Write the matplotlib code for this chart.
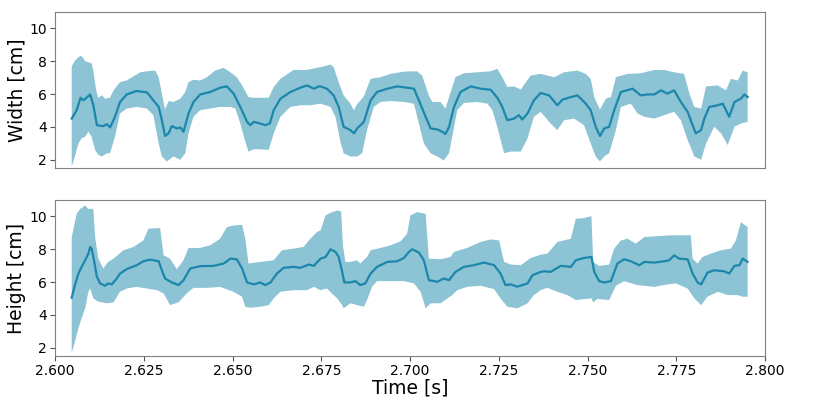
import numpy as np
import matplotlib
matplotlib.use("Agg")
import matplotlib.pyplot as plt

# ---------------- Width (top panel) ----------------
w_mean_t = [2.6047, 2.6061, 2.6072, 2.6080, 2.6089, 2.6099, 2.6108, 2.6118, 2.6136, 2.6146, 2.6155, 2.6169,
            2.6183, 2.6202, 2.6230, 2.6259, 2.6277, 2.6292, 2.6301, 2.6310, 2.6320, 2.6329, 2.6343, 2.6353,
            2.6362, 2.6376, 2.6390, 2.6409, 2.6437, 2.6465, 2.6484, 2.6503, 2.6522, 2.6541, 2.6550, 2.6560,
            2.6578, 2.6592, 2.6605, 2.6616, 2.6635, 2.6663, 2.6691, 2.6710, 2.6729, 2.6743, 2.6748, 2.6766,
            2.6785, 2.6799, 2.6813, 2.6832, 2.6842, 2.6851, 2.6870, 2.6889, 2.6907, 2.6936, 2.6964, 2.6992,
            2.7011, 2.7025, 2.7044, 2.7058, 2.7077, 2.7091, 2.7100, 2.7110, 2.7124, 2.7142, 2.7171, 2.7199,
            2.7227, 2.7246, 2.7260, 2.7274, 2.7293, 2.7307, 2.7316, 2.7331, 2.7349, 2.7368, 2.7392, 2.7415,
            2.7429, 2.7453, 2.7472, 2.7495, 2.7509, 2.7523, 2.7535, 2.7547, 2.7561, 2.7575, 2.7594, 2.7627,
            2.7650, 2.7669, 2.7688, 2.7707, 2.7725, 2.7744, 2.7763, 2.7782, 2.7796, 2.7805, 2.7820, 2.7829,
            2.7843, 2.7867, 2.7881, 2.7899, 2.7914, 2.7932, 2.7942, 2.7951]
w_mean = [4.51, 5.02, 5.78, 5.62, 5.78, 5.98, 5.32, 4.11, 4.05, 4.17, 3.97, 4.62,
          5.52, 5.98, 6.19, 6.11, 5.62, 5.22, 4.41, 3.45, 3.61, 4.05, 3.91, 3.97,
          3.71, 4.82, 5.52, 5.98, 6.13, 6.39, 6.47, 6.03, 5.22, 4.31, 4.11, 4.31,
          4.21, 4.11, 4.21, 5.02, 5.72, 6.13, 6.39, 6.53, 6.33, 6.47, 6.47, 6.33,
          5.92, 5.22, 4.01, 3.81, 3.61, 3.91, 4.31, 5.62, 6.13, 6.33, 6.47, 6.39,
          6.33, 5.62, 4.62, 3.91, 3.85, 3.71, 3.57, 4.01, 5.22, 6.13, 6.47, 6.33,
          6.27, 5.78, 5.22, 4.41, 4.51, 4.72, 4.45, 4.82, 5.62, 6.07, 5.92, 5.32,
          5.66, 5.82, 5.92, 5.42, 5.02, 4.01, 3.45, 3.91, 4.01, 5.02, 6.13, 6.33,
          5.92, 5.98, 5.98, 6.23, 6.03, 6.23, 5.52, 4.92, 4.11, 3.61, 3.81, 4.51,
          5.22, 5.32, 5.42, 4.62, 5.52, 5.72, 5.98, 5.82]

w_up_t = [2.6047, 2.6056, 2.6066, 2.6072, 2.6078, 2.6085, 2.6103, 2.6108, 2.6116, 2.6122, 2.6132, 2.6141,
          2.6155, 2.6165, 2.6183, 2.6202, 2.6240, 2.6259, 2.6282, 2.6292, 2.6301, 2.6310, 2.6320, 2.6334,
          2.6353, 2.6367, 2.6376, 2.6390, 2.6409, 2.6428, 2.6451, 2.6475, 2.6494, 2.6512, 2.6527, 2.6545,
          2.6560, 2.6578, 2.6602, 2.6616, 2.6635, 2.6672, 2.6710, 2.6738, 2.6748, 2.6776, 2.6785, 2.6799,
          2.6813, 2.6832, 2.6842, 2.6851, 2.6870, 2.6889, 2.6917, 2.6945, 2.6983, 2.7020, 2.7034, 2.7053,
          2.7063, 2.7086, 2.7100, 2.7110, 2.7128, 2.7152, 2.7189, 2.7227, 2.7246, 2.7260, 2.7274, 2.7293,
          2.7312, 2.7340, 2.7368, 2.7406, 2.7434, 2.7472, 2.7495, 2.7509, 2.7519, 2.7535, 2.7552, 2.7566,
          2.7580, 2.7613, 2.7650, 2.7688, 2.7716, 2.7744, 2.7772, 2.7787, 2.7801, 2.7820, 2.7834, 2.7867,
          2.7890, 2.7904, 2.7923, 2.7937, 2.7951]
w_up = [7.68, 8.04, 8.24, 8.34, 8.24, 8.00, 7.88, 7.43, 6.23, 5.78, 5.92, 5.72,
        5.78, 6.23, 6.73, 6.83, 7.33, 7.39, 7.43, 7.03, 6.03, 5.06, 5.58, 5.52,
        5.72, 6.13, 6.73, 6.87, 6.83, 7.03, 7.43, 7.60, 7.33, 7.03, 6.53, 5.82,
        5.78, 5.78, 5.78, 6.43, 6.93, 7.47, 7.47, 7.60, 7.64, 7.80, 7.64, 6.73,
        5.92, 5.42, 5.02, 5.38, 5.86, 6.93, 7.03, 7.23, 7.37, 7.39, 7.13, 5.92,
        5.52, 5.52, 5.12, 5.82, 7.03, 7.27, 7.33, 7.39, 7.54, 7.03, 6.43, 6.47,
        6.28, 7.13, 7.23, 7.03, 7.33, 7.43, 7.23, 6.93, 5.82, 5.06, 5.72, 5.82,
        7.03, 7.23, 7.27, 7.47, 7.47, 7.33, 7.23, 6.03, 5.22, 5.12, 6.47, 6.53,
        6.23, 6.93, 6.83, 7.43, 7.33]

w_lo_t = [2.6047, 2.6056, 2.6066, 2.6075, 2.6085, 2.6094, 2.6103, 2.6113, 2.6122, 2.6132, 2.6146, 2.6155,
          2.6169, 2.6183, 2.6202, 2.6230, 2.6259, 2.6277, 2.6292, 2.6301, 2.6315, 2.6334, 2.6353, 2.6367,
          2.6376, 2.6390, 2.6409, 2.6437, 2.6465, 2.6494, 2.6508, 2.6522, 2.6536, 2.6545, 2.6560, 2.6578,
          2.6602, 2.6616, 2.6635, 2.6663, 2.6691, 2.6719, 2.6748, 2.6776, 2.6790, 2.6804, 2.6813, 2.6832,
          2.6851, 2.6865, 2.6879, 2.6898, 2.6917, 2.6945, 2.6983, 2.7011, 2.7025, 2.7039, 2.7058, 2.7077,
          2.7095, 2.7110, 2.7119, 2.7133, 2.7152, 2.7189, 2.7218, 2.7232, 2.7246, 2.7265, 2.7284, 2.7312,
          2.7331, 2.7349, 2.7368, 2.7396, 2.7415, 2.7434, 2.7462, 2.7490, 2.7509, 2.7523, 2.7535, 2.7547,
          2.7561, 2.7580, 2.7594, 2.7622, 2.7641, 2.7660, 2.7688, 2.7716, 2.7744, 2.7763, 2.7782, 2.7801,
          2.7820, 2.7834, 2.7857, 2.7876, 2.7895, 2.7914, 2.7932, 2.7951]
w_lo = [1.59, 2.20, 3.00, 3.31, 3.41, 3.71, 3.41, 2.60, 2.30, 2.20, 2.40, 2.40,
        3.41, 4.82, 5.12, 5.22, 5.12, 4.72, 3.00, 2.20, 1.90, 2.20, 2.00, 2.40,
        3.61, 4.62, 5.02, 5.12, 5.22, 5.22, 5.12, 4.21, 3.10, 2.50, 2.64, 2.64,
        2.60, 3.61, 4.62, 5.22, 5.32, 5.32, 5.42, 5.22, 4.62, 3.10, 2.40, 2.20,
        2.20, 2.40, 3.81, 5.22, 5.52, 5.58, 5.52, 5.42, 4.21, 3.00, 2.40, 2.20,
        1.96, 2.40, 3.41, 5.02, 5.46, 5.52, 5.42, 5.02, 4.01, 2.40, 2.50, 2.50,
        3.30, 4.62, 4.92, 4.21, 3.81, 4.41, 4.51, 4.11, 3.00, 2.20, 1.90, 2.20,
        2.40, 3.81, 5.22, 5.42, 4.82, 4.62, 4.51, 4.72, 4.92, 4.41, 3.21, 2.20,
        2.00, 3.00, 4.01, 3.61, 2.90, 4.01, 4.21, 4.31]

# ---------------- Height (bottom panel) ----------------
h_mean_t = [2.6047, 2.6056, 2.6066, 2.6075, 2.6085, 2.6094, 2.6099, 2.6103, 2.6108, 2.6118, 2.6127, 2.6141,
            2.6150, 2.6160, 2.6174, 2.6183, 2.6202, 2.6230, 2.6249, 2.6268, 2.6292, 2.6301, 2.6310, 2.6329,
            2.6348, 2.6362, 2.6381, 2.6409, 2.6447, 2.6475, 2.6494, 2.6512, 2.6527, 2.6541, 2.6560, 2.6578,
            2.6592, 2.6607, 2.6625, 2.6644, 2.6672, 2.6691, 2.6715, 2.6729, 2.6748, 2.6762, 2.6776, 2.6790,
            2.6799, 2.6809, 2.6815, 2.6832, 2.6846, 2.6860, 2.6874, 2.6889, 2.6907, 2.6936, 2.6964, 2.6983,
            2.6997, 2.7006, 2.7025, 2.7039, 2.7053, 2.7077, 2.7095, 2.7110, 2.7128, 2.7152, 2.7180, 2.7208,
            2.7237, 2.7255, 2.7269, 2.7284, 2.7302, 2.7331, 2.7345, 2.7368, 2.7378, 2.7396, 2.7425, 2.7453,
            2.7467, 2.7490, 2.7511, 2.7519, 2.7533, 2.7547, 2.7566, 2.7584, 2.7603, 2.7622, 2.7646, 2.7660,
            2.7688, 2.7716, 2.7730, 2.7744, 2.7758, 2.7782, 2.7796, 2.7810, 2.7820, 2.7838, 2.7857, 2.7885,
            2.7899, 2.7914, 2.7928, 2.7937, 2.7951]
h_mean = [5.05, 5.82, 6.52, 6.93, 7.33, 7.74, 8.14, 8.04, 7.53, 6.32, 5.92, 5.78,
          5.92, 5.86, 6.22, 6.52, 6.79, 7.03, 7.27, 7.37, 7.27, 6.72, 6.22, 5.98,
          5.82, 6.12, 6.83, 6.97, 6.99, 7.13, 7.43, 7.39, 6.83, 5.98, 5.86, 5.98,
          5.82, 5.98, 6.52, 6.87, 6.93, 6.87, 7.07, 6.99, 7.43, 7.53, 8.00, 7.84,
          7.53, 6.62, 5.98, 5.98, 6.06, 5.82, 5.92, 6.52, 6.93, 7.23, 7.27, 7.47,
          7.84, 8.00, 7.80, 7.33, 6.12, 6.02, 6.22, 6.12, 6.62, 6.93, 7.03, 7.19,
          7.03, 6.52, 5.82, 5.86, 5.72, 5.92, 6.42, 6.62, 6.66, 6.62, 6.99, 6.93,
          7.33, 7.47, 7.53, 6.62, 6.06, 5.98, 6.06, 7.13, 7.39, 7.27, 7.03, 7.23,
          7.19, 7.27, 7.33, 7.63, 7.43, 7.39, 6.52, 5.98, 5.86, 6.58, 6.72, 6.66,
          6.52, 6.99, 7.03, 7.43, 7.23]

h_up_t = [2.6047, 2.6052, 2.6061, 2.6071, 2.6085, 2.6094, 2.6108, 2.6113, 2.6122, 2.6136, 2.6150, 2.6165,
          2.6193, 2.6221, 2.6249, 2.6263, 2.6296, 2.6306, 2.6324, 2.6343, 2.6362, 2.6376, 2.6409, 2.6437,
          2.6465, 2.6484, 2.6503, 2.6527, 2.6536, 2.6545, 2.6578, 2.6616, 2.6639, 2.6672, 2.6700, 2.6715,
          2.6738, 2.6748, 2.6762, 2.6776, 2.6795, 2.6806, 2.6811, 2.6818, 2.6832, 2.6851, 2.6860, 2.6879,
          2.6889, 2.6917, 2.6945, 2.6973, 2.6992, 2.7001, 2.7020, 2.7044, 2.7053, 2.7086, 2.7114, 2.7124,
          2.7161, 2.7199, 2.7227, 2.7251, 2.7265, 2.7284, 2.7312, 2.7340, 2.7368, 2.7387, 2.7415, 2.7453,
          2.7467, 2.7490, 2.7511, 2.7516, 2.7533, 2.7561, 2.7575, 2.7594, 2.7613, 2.7636, 2.7660, 2.7697,
          2.7735, 2.7791, 2.7796, 2.7810, 2.7824, 2.7848, 2.7876, 2.7904, 2.7918, 2.7932, 2.7951]
h_up = [8.74, 9.25, 10.16, 10.46, 10.66, 10.46, 10.46, 8.74, 7.43, 6.83, 7.23, 7.43,
        7.94, 8.14, 8.54, 9.25, 9.29, 7.63, 7.43, 6.79, 7.33, 8.08, 8.08, 8.24,
        8.64, 9.35, 9.45, 9.49, 8.64, 7.13, 7.23, 7.33, 7.94, 8.04, 8.14, 8.54,
        9.05, 9.15, 10.06, 10.22, 10.36, 10.30, 8.24, 7.23, 7.23, 7.33, 7.13, 7.53,
        7.94, 8.08, 8.24, 8.48, 8.95, 10.06, 10.26, 10.16, 7.43, 7.39, 7.53, 7.84,
        8.08, 8.44, 8.60, 8.54, 7.23, 7.07, 7.03, 7.47, 7.67, 7.74, 8.44, 8.64,
        9.86, 9.90, 10.02, 7.23, 6.99, 7.07, 8.04, 8.54, 8.64, 8.34, 8.74, 8.80,
        8.85, 8.85, 7.43, 7.13, 7.53, 7.74, 7.94, 8.04, 8.54, 9.65, 9.35]

h_lo_t = [2.6047, 2.6056, 2.6066, 2.6075, 2.6085, 2.6094, 2.6099, 2.6108, 2.6122, 2.6146, 2.6165, 2.6183,
          2.6202, 2.6230, 2.6259, 2.6287, 2.6306, 2.6324, 2.6348, 2.6371, 2.6390, 2.6428, 2.6465, 2.6503,
          2.6527, 2.6536, 2.6550, 2.6578, 2.6602, 2.6616, 2.6635, 2.6672, 2.6710, 2.6729, 2.6748, 2.6766,
          2.6780, 2.6795, 2.6809, 2.6813, 2.6832, 2.6851, 2.6870, 2.6879, 2.6893, 2.6907, 2.6945, 2.6983,
          2.7011, 2.7030, 2.7044, 2.7058, 2.7086, 2.7119, 2.7133, 2.7161, 2.7199, 2.7237, 2.7255, 2.7274,
          2.7302, 2.7331, 2.7349, 2.7368, 2.7387, 2.7415, 2.7443, 2.7467, 2.7511, 2.7516, 2.7528, 2.7561,
          2.7580, 2.7603, 2.7641, 2.7688, 2.7725, 2.7749, 2.7782, 2.7801, 2.7820, 2.7838, 2.7867, 2.7895,
          2.7923, 2.7937, 2.7951]
h_lo = [1.68, 2.38, 3.19, 3.80, 4.40, 5.41, 5.61, 5.01, 4.81, 4.71, 4.77, 5.41,
        5.61, 5.71, 5.61, 5.51, 5.31, 4.60, 4.77, 5.31, 5.65, 5.65, 5.71, 5.41,
        5.11, 4.50, 4.44, 4.50, 4.60, 5.01, 5.41, 5.51, 5.51, 5.71, 5.51, 5.61,
        5.31, 5.01, 4.60, 4.40, 4.71, 4.60, 4.50, 4.91, 5.71, 6.06, 6.06, 6.06,
        5.92, 5.41, 4.40, 4.71, 4.71, 5.21, 5.51, 5.71, 5.78, 5.57, 5.01, 4.50,
        4.40, 4.71, 5.21, 5.51, 5.65, 5.41, 5.21, 4.91, 5.01, 4.77, 4.97, 4.91,
        5.78, 6.06, 5.82, 5.71, 5.86, 5.92, 5.61, 5.01, 4.60, 5.11, 5.41, 5.21,
        5.21, 5.11, 5.11]

y_labels = ["Width [cm]", "Height [cm]"]
x_label = "Time [s]"
x_ticks = [2.600, 2.625, 2.650, 2.675, 2.700, 2.725, 2.750, 2.775, 2.800]
y_ticks = [2, 4, 6, 8, 10]

FILL = "#8cc3d5"
LINE = "#1b87aa"

fig = plt.figure(figsize=(8.31, 3.98), dpi=100)
ax1 = fig.add_axes([0.0662, 0.5779, 0.8544, 0.3919])
ax2 = fig.add_axes([0.0662, 0.1055, 0.8544, 0.3920])

panels = [
    (ax1, w_mean_t, w_mean, w_up_t, w_up, w_lo_t, w_lo, y_labels[0]),
    (ax2, h_mean_t, h_mean, h_up_t, h_up, h_lo_t, h_lo, y_labels[1]),
]
for ax, mt, m, ut, u, lt, lo, lab in panels:
    px = np.concatenate([ut, lt[::-1]])
    py = np.concatenate([u, lo[::-1]])
    ax.fill(px, py, color=FILL, lw=0)
    ax.plot(mt, m, color=LINE, lw=1.6)
    ax.set_xlim(2.6, 2.8)
    ax.set_ylim(1.5, 11.0)
    ax.set_yticks(y_ticks)
    ax.set_ylabel(lab, fontsize=13.5, labelpad=2)
    ax.tick_params(labelsize=10, color="#555555", length=3.5, pad=2.5)
    for s in ax.spines.values():
        s.set_color("#808080")

ax1.set_xticks(x_ticks)
ax1.tick_params(axis="x", bottom=False, labelbottom=False)
ax2.set_xticks(x_ticks)
ax2.set_xticklabels([f"{v:.3f}" for v in x_ticks])
ax2.set_xlabel(x_label, fontsize=13.5, labelpad=0)

fig.savefig("out.png", dpi=100)
